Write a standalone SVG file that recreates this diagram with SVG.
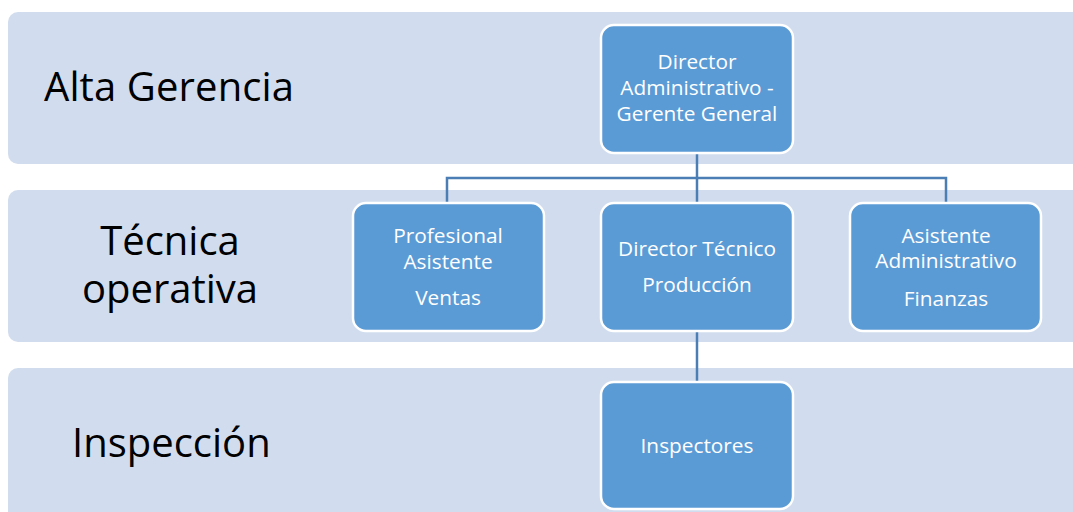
<svg xmlns="http://www.w3.org/2000/svg" width="1073" height="512" viewBox="0 0 1073 512">
<style>
.band{fill:#d1ddee;}
.lbl{font-family:"Open Sans","Liberation Sans",sans-serif;font-size:40px;fill:#000;}
.box{fill:#5b9bd5;stroke:#ffffff;stroke-width:2.5;}
.t{font-family:"Open Sans","Liberation Sans",sans-serif;font-size:20.8px;fill:#ffffff;text-anchor:middle;}
.con{fill:none;stroke:#4a7eb5;stroke-width:2.5;}
</style>
<rect width="1073" height="512" fill="#ffffff"/>
<g id="bands">
<rect class="band" x="8" y="12" width="1080" height="152" rx="10"/>
<rect class="band" x="8" y="190" width="1080" height="152" rx="10"/>
<rect class="band" x="8" y="368" width="1080" height="160" rx="10"/>
<text class="lbl" x="44" y="101" textLength="250" lengthAdjust="spacing">Alta Gerencia</text>
<text class="lbl" x="170" y="255" text-anchor="middle">Técnica</text>
<text class="lbl" x="170" y="303" text-anchor="middle">operativa</text>
<text class="lbl" x="72" y="457">Inspección</text>
</g>
<g id="connectors">
<path class="con" d="M697 153 V203"/>
<path class="con" d="M447 203 V178 H946 V203"/>
<path class="con" d="M697 331 V382"/>
</g>
<g id="n-director">
<rect class="box" x="601" y="25" width="192" height="128" rx="13"/>
<text class="t" x="697" y="69">Director</text>
<text class="t" x="697" y="95">Administrativo -</text>
<text class="t" x="697" y="121">Gerente General</text>
</g>
<g id="n-profesional">
<rect class="box" x="353" y="203" width="191" height="128" rx="13"/>
<text class="t" x="448" y="243">Profesional</text>
<text class="t" x="448" y="269">Asistente</text>
<text class="t" x="448" y="305">Ventas</text>
</g>
<g id="n-tecnico">
<rect class="box" x="601" y="203" width="192" height="128" rx="13"/>
<text class="t" x="697" y="256">Director Técnico</text>
<text class="t" x="697" y="292">Producción</text>
</g>
<g id="n-asistente">
<rect class="box" x="850" y="203" width="191" height="128" rx="13"/>
<text class="t" x="946" y="243">Asistente</text>
<text class="t" x="946" y="268">Administrativo</text>
<text class="t" x="946" y="306">Finanzas</text>
</g>
<g id="n-inspectores">
<rect class="box" x="601" y="382" width="192" height="127" rx="13"/>
<text class="t" x="697" y="453">Inspectores</text>
</g>
</svg>
